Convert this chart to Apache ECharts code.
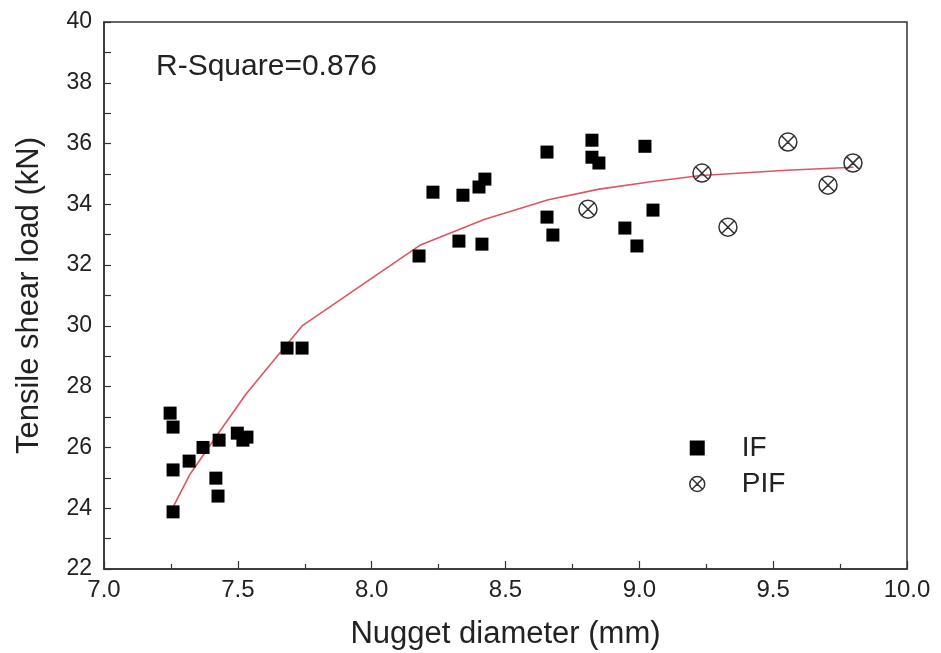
<!DOCTYPE html>
<html><head><meta charset="utf-8">
<script src="https://cdn.jsdelivr.net/npm/echarts@6/dist/echarts.min.js"></script>
<style>html,body{margin:0;padding:0;background:#fff}#c{width:941px;height:653px}</style>
</head><body><div id="c"></div>
<script>
// IF data: [nugget diameter (mm), tensile shear load (kN)]
const ifX = [7.247,7.258,7.258,7.258,7.318,7.37,7.43,7.418,7.426,7.498,7.519,7.534,7.684,7.740,
             8.177,8.229,8.326,8.341,8.401,8.423,8.412,8.655,8.655,8.677,8.823,8.823,8.849,9.021,9.051,8.946,8.991];
const ifY = [27.13,26.67,25.26,23.88,25.55,26.0,26.24,24.99,24.4,26.47,26.24,26.34,29.27,29.27,
             32.30,34.40,32.79,34.30,34.57,34.83,32.69,35.72,33.58,32.99,36.11,35.55,35.36,35.91,33.81,33.22,32.63];
// PIF data
const pifX = [8.808,9.234,9.555,9.331,9.705,9.798];
const pifY = [33.84,35.03,36.05,33.25,34.63,35.36];
// fitted curve
const fitX = [7.25,7.32,7.43,7.53,7.74,8.18,8.42,8.66,8.85,9.05,9.23,9.55,9.80];
const fitY = [23.9,25.1,26.5,27.75,30.0,32.65,33.5,34.15,34.5,34.75,34.95,35.12,35.22];
const xTicks = {min:7.0, max:10.0, interval:0.5};
const yTicks = {min:22, max:40, interval:2};
const rSquare = 'R-Square=0.876';

const zip = (a,b)=>a.map((v,i)=>[v,b[i]]);
const pifPath = 'path://M50,2 A48,48 0 1,1 49.9,2 Z M16,16 L84,84 M84,16 L16,84';
const font = 'Liberation Sans, Arial, sans-serif';
const chart = echarts.init(document.getElementById('c'), null, {renderer:'canvas'});
chart.setOption({
  animation:false,
  backgroundColor:'#fff',
  grid:{left:104,right:34,top:22,bottom:84,containLabel:false,outerBoundsMode:'none',
    show:true,borderColor:'#333',borderWidth:1.5,backgroundColor:'transparent'},
  xAxis:{type:'value',min:xTicks.min,max:xTicks.max,interval:xTicks.interval,
    name:'Nugget diameter (mm)',nameLocation:'middle',nameGap:50,
    nameTextStyle:{fontSize:31,color:'#222',fontFamily:font},
    axisLine:{lineStyle:{color:'#333',width:1.5}},
    axisTick:{inside:true,length:8,lineStyle:{color:'#333',width:1.2}},
    minorTick:{show:true,splitNumber:2,length:5,lineStyle:{color:'#333',width:1.2}},
    splitLine:{show:false},
    axisLabel:{fontSize:24,color:'#222',fontFamily:font,margin:9,formatter:v=>v.toFixed(1)}},
  yAxis:{type:'value',min:yTicks.min,max:yTicks.max,interval:yTicks.interval,
    name:'Tensile shear load (kN)',nameLocation:'middle',nameGap:59,nameRotate:90,
    nameTextStyle:{fontSize:31,color:'#222',fontFamily:font},
    axisLine:{lineStyle:{color:'#333',width:1.5}},
    axisTick:{inside:true,length:7,lineStyle:{color:'#333',width:1.2}},
    minorTick:{show:true,splitNumber:2,length:7,lineStyle:{color:'#333',width:1.2}},
    splitLine:{show:false},
    axisLabel:{fontSize:23,color:'#222',fontFamily:font,margin:12}},
  legend:{orient:'vertical',left:684,top:429,itemGap:8,itemWidth:15,itemHeight:15,
    textStyle:{fontSize:28,color:'#222',fontFamily:font,padding:[0,0,0,32]},
    data:[{name:'IF',icon:'path://M0,0 L12,0 L12,12 L0,12 Z',itemStyle:{color:'#000'}},
          {name:'PIF',icon:pifPath,itemStyle:{color:'transparent',borderColor:'#333',borderWidth:1.5}}]},
  graphic:[{type:'text',left:156,top:52,style:{text:rSquare,fontSize:30,fill:'#222',fontFamily:font}}],
  series:[
    {name:'fit',type:'line',data:zip(fitX,fitY),showSymbol:false,symbol:'none',
      lineStyle:{color:'#e05560',width:1.6},z:1,silent:true},
    {name:'IF',type:'scatter',data:zip(ifX,ifY),symbol:'rect',symbolSize:13,
      itemStyle:{color:'#000',opacity:1},z:3},
    {name:'PIF',type:'scatter',data:zip(pifX,pifY),symbol:pifPath,symbolSize:18,
      itemStyle:{color:'transparent',borderColor:'#333',borderWidth:1.5,opacity:1},z:3}
  ]
});
</script></body></html>
